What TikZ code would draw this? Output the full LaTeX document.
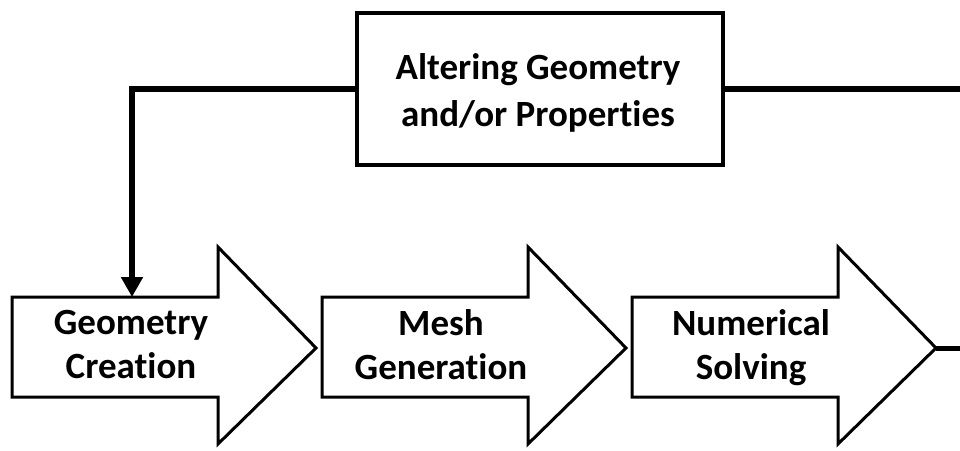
\documentclass[tikz,border=0pt]{standalone}
\usepackage{fontspec}
\setmainfont{Carlito}[Ligatures=NoCommon]
\usetikzlibrary{arrows.meta}
\tikzset{
  stage/.style={draw=black, line width=3pt, fill=white, line join=miter},
  stagetext/.style={font=\bfseries\fontsize{37}{44}\selectfont, align=center, inner sep=0pt,
    execute at begin node=\strut, execute at end node=\strut},
  boxtext/.style={stagetext, font=\bfseries\fontsize{37}{47}\selectfont},
  feedback/.style={draw=black, line width=4pt, fill=white},
  link/.style={line width=6pt},
}
% one stage arrow: body from x=#1, body 206 wide, head 98 long
\newcommand{\stagearrow}[1]{%
  \draw[stage] (#1,297) -- ++(206,0) -- ++(0,-50) -- ++(98,101) -- ++(-98,96)
    -- ++(0,-47) -- ++(-206,0) -- cycle;}
\begin{document}
\begin{tikzpicture}[x=1pt, y=-1pt]
  \useasboundingbox (0,0) rectangle (960,450);
  % stage arrows
  \stagearrow{12}
  \stagearrow{322}
  \stagearrow{632}
  \coordinate (tip3) at (936,348);
  \node[stagetext] (geo)  at (131,351) {Geometry\\Creation};
  \node[stagetext] (mesh) at (441,351) {Mesh\\Generation};
  \node[stagetext] (num)  at (751,351) {Numerical\\Solving};
  % feedback box
  \node[feedback, minimum width=366pt, minimum height=152pt] (alter) at (540,89) {};
  \node[boxtext] (altertext) at (538,97) {Altering Geometry\\and/or Properties};
  \coordinate (entry) at (132,297);
  \coordinate (outtop) at (961,89);
  \coordinate (outlow) at (961,348);
  % connectors
  \draw[link, -{Triangle[length=20pt,width=21pt]}] (alter.west) -| (entry);
  \draw[link] (alter.east) -- (outtop);
  \draw[line width=5pt] (tip3) -- (outlow);
\end{tikzpicture}
\end{document}
